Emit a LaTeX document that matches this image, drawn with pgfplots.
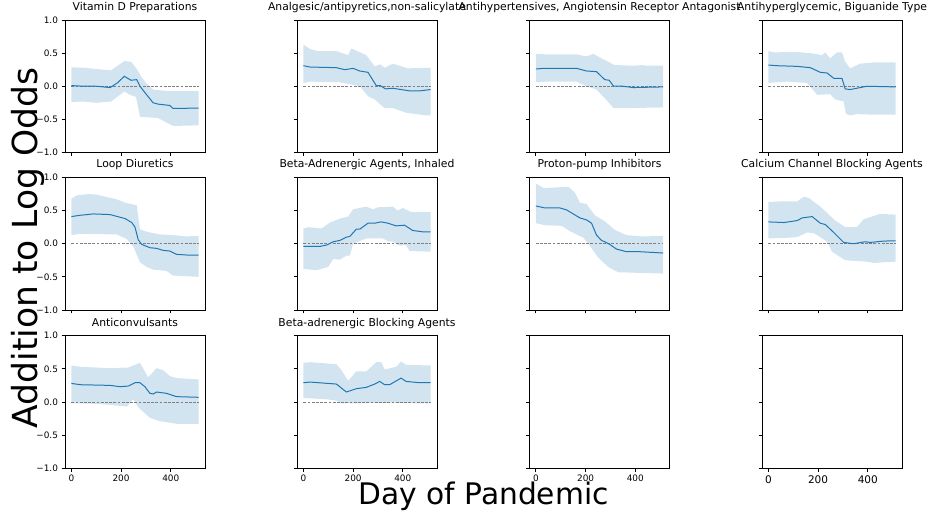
\documentclass[border=0pt]{standalone}
\usepackage{fontspec}
\setmainfont{DejaVu Sans}
\usepackage{pgfplots}
\pgfplotsset{compat=1.18}
\usepgfplotslibrary{fillbetween}
\definecolor{mplblue}{HTML}{1F77B4}
\pgfplotsset{
  panel/.style={
    width=140pt, height=132.5pt, scale only axis, anchor=north west,
    xmin=-25.6, xmax=537.6, ymin=-1, ymax=1,
    xtick={0,200,400}, ytick={-1,-0.5,0,0.5,1},
    xticklabels={}, yticklabels={},
    tick align=outside, tick pos=left, major tick length=3.5pt,
    axis line style={line width=0.8pt, black},
    every tick/.style={black, line width=0.8pt},
    ticklabel style={font=\fontsize{8.9}{10}\selectfont},
    title style={font=\fontsize{10.8}{12}\selectfont, at={(0.5,1)}, anchor=base, yshift=3.5pt},
  },
  ylab/.style={yticklabels={−1.0,−0.5,0.0,0.5,1.0}},
  xlab/.style={xticklabels={0,200,400}},
  band/.style={fill=mplblue, fill opacity=0.2, draw=none},
  zeroline/.style={black!50, line width=0.8pt, dash pattern=on 2.8pt off 1.4pt},
  meanline/.style={mplblue, line width=1pt},
}
\begin{document}
\begin{tikzpicture}

% Row 1
\begin{axis}[panel, ylab, at={(65pt,496pt)}, title={Vitamin D Preparations}]
\addplot[name path=U1, draw=none, forget plot] coordinates {(0,0.285)(50,0.28)(100,0.26)(160,0.24)(213,0.38)(240,0.37)(263,0.26)(280,0.15)(300,0.05)(329,-0.05)(383,-0.07)(512,-0.07)};
\addplot[name path=L1, draw=none, forget plot] coordinates {(0,-0.24)(50,-0.23)(100,-0.25)(160,-0.23)(213,-0.08)(236,-0.13)(260,-0.16)(276,-0.46)(349,-0.48)(409,-0.60)(512,-0.59)};
\addplot[band] fill between[of=U1 and L1];
\addplot[zeroline] coordinates {(0,0)(512,0)};
\addplot[meanline] coordinates {(0,0.01)(50,0.0)(100,0.0)(156,-0.02)(185,0.05)(213,0.15)(240,0.09)(263,0.10)(276,0.0)(303,-0.13)(329,-0.25)(349,-0.27)(396,-0.29)(409,-0.335)(512,-0.33)};
\end{axis}

\begin{axis}[panel, at={(297pt,496pt)}, title={Analgesic/antipyretics,non-salicylate}]
\addplot[name path=U2, draw=none, forget plot] coordinates {(0,0.63)(27,0.56)(60,0.53)(133,0.53)(180,0.47)(193,0.57)(253,0.47)(287,0.30)(309,0.33)(327,0.28)(360,0.34)(420,0.27)(512,0.28)};
\addplot[name path=L2, draw=none, forget plot] coordinates {(0,0.05)(27,0.07)(147,0.06)(200,0.02)(227,0.0)(260,-0.15)(287,-0.20)(327,-0.33)(360,-0.33)(413,-0.40)(453,-0.42)(493,-0.44)(512,-0.44)};
\addplot[band] fill between[of=U2 and L2];
\addplot[zeroline] coordinates {(0,0)(512,0)};
\addplot[meanline] coordinates {(0,0.31)(27,0.29)(133,0.28)(167,0.25)(200,0.27)(227,0.23)(260,0.21)(293,0.01)(309,0.01)(331,-0.04)(360,-0.03)(427,-0.07)(467,-0.07)(512,-0.05)};
\end{axis}

\begin{axis}[panel, at={(529.5pt,496pt)}, title={Antihypertensives, Angiotensin Receptor Antagonist}]
\addplot[name path=U3, draw=none, forget plot] coordinates {(0,0.49)(44,0.48)(164,0.48)(204,0.45)(231,0.49)(264,0.42)(317,0.32)(391,0.31)(431,0.32)(444,0.31)(512,0.31)};
\addplot[name path=L3, draw=none, forget plot] coordinates {(0,0.06)(44,0.07)(164,0.07)(204,0.0)(244,-0.05)(277,-0.18)(313,-0.33)(364,-0.33)(512,-0.32)};
\addplot[band] fill between[of=U3 and L3];
\addplot[zeroline] coordinates {(0,0)(512,0)};
\addplot[meanline] coordinates {(0,0.26)(31,0.27)(164,0.27)(204,0.23)(244,0.22)(277,0.10)(295,0.09)(313,0.0)(351,0.0)(391,-0.02)(512,-0.01)};
\end{axis}

\begin{axis}[panel, at={(762pt,496pt)}, title={Antihyperglycemic, Biguanide Type}]
\addplot[name path=U4, draw=none, forget plot] coordinates {(0,0.53)(23,0.51)(103,0.52)(169,0.50)(216,0.47)(229,0.51)(249,0.42)(276,0.51)(296,0.51)(309,0.37)(329,0.27)(369,0.34)(423,0.36)(512,0.36)};
\addplot[name path=L4, draw=none, forget plot] coordinates {(0,0.05)(76,0.07)(156,0.05)(196,-0.13)(249,-0.12)(269,-0.20)(303,-0.23)(312,-0.42)(329,-0.44)(356,-0.42)(423,-0.43)(512,-0.43)};
\addplot[band] fill between[of=U4 and L4];
\addplot[zeroline] coordinates {(0,0)(512,0)};
\addplot[meanline] coordinates {(0,0.32)(36,0.31)(116,0.30)(169,0.28)(209,0.21)(236,0.20)(263,0.12)(296,0.12)(309,-0.04)(329,-0.05)(396,0.0)(512,-0.01)};
\end{axis}

% Row 2
\begin{axis}[panel, ylab, at={(65pt,338.5pt)}, title={Loop Diuretics}]
\addplot[name path=U5, draw=none, forget plot] coordinates {(0,0.68)(23,0.73)(69,0.75)(103,0.74)(183,0.67)(216,0.62)(263,0.58)(276,0.22)(303,0.18)(356,0.14)(409,0.13)(463,0.11)(512,0.12)};
\addplot[name path=L5, draw=none, forget plot] coordinates {(0,0.13)(36,0.15)(183,0.14)(223,0.07)(249,-0.04)(276,-0.28)(303,-0.35)(329,-0.39)(383,-0.41)(409,-0.48)(512,-0.50)};
\addplot[band] fill between[of=U5 and L5];
\addplot[zeroline] coordinates {(0,0)(512,0)};
\addplot[meanline] coordinates {(0,0.41)(36,0.43)(89,0.45)(156,0.44)(196,0.40)(216,0.38)(243,0.32)(256,0.25)(269,0.06)(283,-0.01)(316,-0.06)(343,-0.07)(369,-0.10)(396,-0.11)(423,-0.16)(463,-0.17)(512,-0.17)};
\end{axis}

\begin{axis}[panel, at={(297pt,338.5pt)}, title={Beta-Adrenergic Agents, Inhaled}]
\addplot[name path=U6, draw=none, forget plot] coordinates {(0,0.23)(20,0.25)(73,0.23)(107,0.32)(147,0.38)(180,0.41)(200,0.52)(253,0.56)(280,0.52)(300,0.55)(360,0.56)(380,0.50)(400,0.54)(433,0.48)(512,0.48)};
\addplot[name path=L6, draw=none, forget plot] coordinates {(0,-0.38)(53,-0.40)(100,-0.35)(120,-0.23)(147,-0.24)(173,-0.18)(187,-0.18)(200,0.0)(253,0.08)(320,0.08)(340,0.04)(360,0.03)(387,-0.03)(413,-0.02)(427,-0.11)(512,-0.12)};
\addplot[band] fill between[of=U6 and L6];
\addplot[zeroline] coordinates {(0,0)(512,0)};
\addplot[meanline] coordinates {(0,-0.04)(67,-0.04)(93,-0.02)(120,0.03)(147,0.05)(173,0.10)(187,0.11)(213,0.22)(227,0.22)(260,0.31)(287,0.31)(313,0.33)(340,0.31)(373,0.27)(407,0.28)(440,0.20)(480,0.18)(512,0.18)};
\end{axis}

\begin{axis}[panel, at={(529.5pt,338.5pt)}, title={Proton-pump Inhibitors}]
\addplot[name path=U7, draw=none, forget plot] coordinates {(0,0.91)(31,0.84)(131,0.86)(157,0.77)(177,0.62)(204,0.60)(237,0.43)(277,0.34)(317,0.21)(364,0.13)(431,0.11)(512,0.12)};
\addplot[name path=L7, draw=none, forget plot] coordinates {(0,0.31)(37,0.28)(104,0.27)(137,0.19)(191,0.09)(217,-0.03)(251,-0.21)(291,-0.35)(331,-0.43)(417,-0.44)(512,-0.45)};
\addplot[band] fill between[of=U7 and L7];
\addplot[zeroline] coordinates {(0,0)(512,0)};
\addplot[meanline] coordinates {(0,0.57)(37,0.54)(97,0.54)(124,0.51)(177,0.39)(204,0.36)(224,0.31)(244,0.13)(264,0.05)(277,0.03)(297,-0.01)(324,-0.08)(364,-0.12)(417,-0.12)(512,-0.14)};
\end{axis}

\begin{axis}[panel, at={(762pt,338.5pt)}, title={Calcium Channel Blocking Agents}]
\addplot[name path=U8, draw=none, forget plot] coordinates {(0,0.63)(49,0.64)(116,0.64)(143,0.71)(163,0.69)(209,0.56)(249,0.42)(269,0.35)(309,0.25)(356,0.25)(383,0.37)(449,0.45)(512,0.44)};
\addplot[name path=L8, draw=none, forget plot] coordinates {(0,0.08)(76,0.09)(116,0.10)(156,0.17)(183,0.16)(209,0.10)(236,0.03)(256,-0.12)(309,-0.25)(396,-0.27)(423,-0.29)(512,-0.27)};
\addplot[band] fill between[of=U8 and L8];
\addplot[zeroline] coordinates {(0,0)(512,0)};
\addplot[meanline] coordinates {(0,0.33)(63,0.32)(116,0.35)(136,0.39)(176,0.41)(209,0.31)(229,0.29)(263,0.17)(303,0.02)(343,0.0)(389,0.03)(409,0.02)(463,0.04)(512,0.045)};
\end{axis}

% Row 3
\begin{axis}[panel, ylab, xlab, at={(65pt,180.3pt)}, title={Anticonvulsants}]
\addplot[name path=U9, draw=none, forget plot] coordinates {(0,0.55)(36,0.53)(156,0.51)(229,0.52)(276,0.59)(309,0.37)(343,0.51)(369,0.48)(396,0.39)(423,0.36)(512,0.34)};
\addplot[name path=L9, draw=none, forget plot] coordinates {(0,-0.02)(116,-0.03)(223,-0.07)(249,0.04)(269,-0.08)(316,-0.24)(356,-0.29)(423,-0.33)(512,-0.33)};
\addplot[band] fill between[of=U9 and L9];
\addplot[zeroline] coordinates {(0,0)(512,0)};
\addplot[meanline] coordinates {(0,0.28)(36,0.26)(156,0.25)(196,0.23)(229,0.24)(256,0.29)(276,0.29)(296,0.23)(316,0.13)(329,0.12)(343,0.15)(383,0.13)(423,0.08)(512,0.07)};
\end{axis}

\begin{axis}[panel, xlab, at={(297pt,180.3pt)}, title={Beta-adrenergic Blocking Agents}]
\addplot[name path=U10, draw=none, forget plot] coordinates {(0,0.59)(27,0.60)(133,0.57)(153,0.48)(180,0.32)(213,0.46)(253,0.46)(293,0.60)(313,0.60)(327,0.49)(373,0.53)(393,0.61)(413,0.56)(512,0.55)};
\addplot[name path=L10, draw=none, forget plot] coordinates {(0,0.06)(93,0.04)(133,0.02)(153,-0.02)(227,-0.02)(360,-0.01)(440,-0.02)(512,-0.02)};
\addplot[band] fill between[of=U10 and L10];
\addplot[zeroline] coordinates {(0,0)(512,0)};
\addplot[meanline] coordinates {(0,0.29)(27,0.30)(133,0.27)(173,0.15)(213,0.20)(253,0.22)(287,0.27)(307,0.31)(327,0.26)(347,0.26)(393,0.36)(413,0.31)(467,0.29)(512,0.29)};
\end{axis}

\begin{axis}[panel, xlab, at={(529.5pt,180.3pt)}]
\end{axis}

\begin{axis}[panel, xlab, at={(762pt,180.3pt)}, xticklabel style={font=\fontsize{10.5}{12}\selectfont}]
\end{axis}

\node[anchor=base, font=\fontsize{29.7}{34}\selectfont] at (483.5pt,11pt) {Day of Pandemic};
\node[anchor=base, rotate=90, font=\fontsize{34.5}{40}\selectfont] at (38pt,268pt) {Addition to Log Odds};
\pgfresetboundingbox
\useasboundingbox (0,0) rectangle (932pt,516pt);
\end{tikzpicture}
\end{document}
